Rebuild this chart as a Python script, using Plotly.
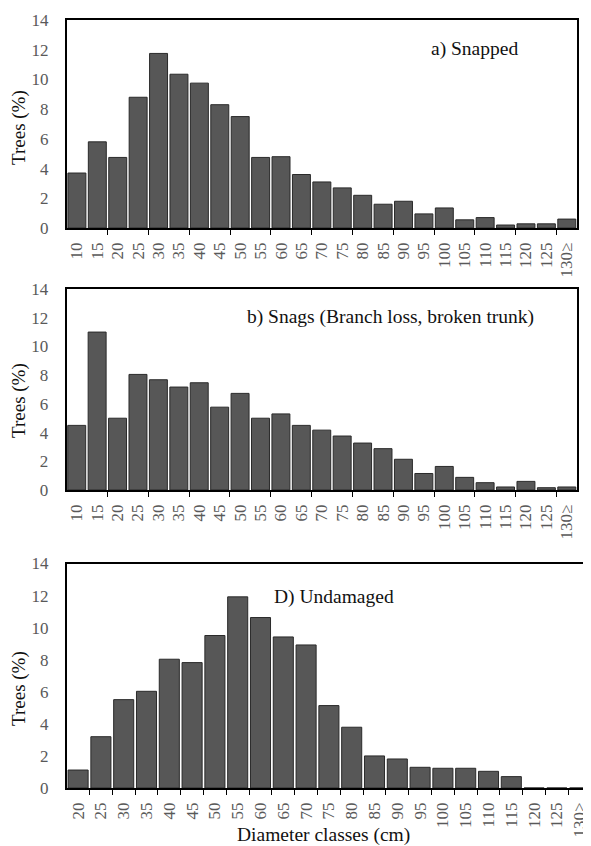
import plotly.graph_objects as go

# the page body has an 8px default margin; the figure is sized so it fills the window exactly
OFF = 8
W, H = 591 - OFF, 846 - OFF

cats_ab = ["10", "15", "20", "25", "30", "35", "40", "45", "50", "55", "60", "65", "70",
           "75", "80", "85", "90", "95", "100", "105", "110", "115", "120", "125", "130≥"]
cats_d = ["20", "25", "30", "35", "40", "45", "50", "55", "60", "65", "70", "75", "80",
          "85", "90", "95", "100", "105", "110", "115", "120", "125", "130≥"]

snapped = [3.7, 5.8, 4.75, 8.8, 11.75, 10.35, 9.75, 8.3, 7.5, 4.75, 4.8, 3.6, 3.1,
           2.7, 2.2, 1.6, 1.8, 0.95, 1.35, 0.55, 0.7, 0.2, 0.28, 0.28, 0.6]
snags = [4.5, 11.0, 5.0, 8.05, 7.68, 7.17, 7.47, 5.77, 6.73, 5.0, 5.3, 4.5, 4.17,
         3.76, 3.27, 2.88, 2.14, 1.15, 1.64, 0.88, 0.51, 0.21, 0.6, 0.16, 0.21]
undamaged = [1.12, 3.2, 5.51, 6.03, 8.03, 7.82, 9.51, 11.92, 10.63, 9.42, 8.92, 5.14, 3.79,
             2.0, 1.81, 1.29, 1.23, 1.23, 1.04, 0.71, 0.0, 0.0, 0.0]

y_ticks = [0, 2, 4, 6, 8, 10, 12, 14]

panel_titles = ["a) Snapped", "b) Snags (Branch loss, broken trunk)", "D) Undamaged"]
y_title = "Trees (%)"
x_title = "Diameter classes (cm)"

FONT = "Liberation Serif"
BAR = "#575757"
EDGE = "#2a2a2a"
TICKC = "#595959"


def px(x):
    return (x - OFF) / W


def py(y):
    return 1 - (y - OFF) / H


fig = go.Figure()

series = [(cats_ab, snapped, "x", "y"), (cats_ab, snags, "x2", "y2"), (cats_d, undamaged, "x3", "y3")]
for cats, vals, xa, ya in series:
    fig.add_trace(go.Bar(
        x=list(range(len(cats))), y=vals, xaxis=xa, yaxis=ya,
        marker=dict(color=BAR, line=dict(color=EDGE, width=1)),
        showlegend=False, hoverinfo="skip"))

# panel geometry in window pixels
panels = [
    dict(x0=66.7, x1=577, y0=20, y1=228, cats=cats_ab, every=2, rng=[-0.5, 24.5]),
    dict(x0=66.5, x1=577, y0=289, y1=490, cats=cats_ab, every=2, rng=[-0.5, 24.5]),
    dict(x0=66.7, x1=591, y0=563.5, y1=788, cats=cats_d, every=1,
         rng=[-0.5, -0.5 + (591 - 66.7) / 22.8]),
]

layout = dict(
    template="none",
    width=W, height=H, margin=dict(l=0, r=0, t=0, b=0, autoexpand=False),
    paper_bgcolor="white", plot_bgcolor="white",
    bargap=0.12, font=dict(family=FONT, color="#000"),
)

for i, p in enumerate(panels):
    sfx = "" if i == 0 else str(i + 1)
    n = len(p["cats"])
    minor_vals = [-0.5 + k for k in range(p["every"], n, p["every"])]
    layout["xaxis" + sfx] = dict(
        domain=[px(p["x0"]), min(1.0, px(p["x1"]))], anchor="y" + sfx, automargin=False,
        range=p["rng"], tickmode="array", tickvals=list(range(n)), ticktext=p["cats"],
        tickangle=-90, ticks="outside", ticklen=6, tickcolor="rgba(0,0,0,0)",
        ticklabeloverflow="allow",
        tickfont=dict(family=FONT, size=17, color=TICKC),
        showline=True, linecolor="#000", linewidth=1.5,
        mirror=True,
        showgrid=False, zeroline=False, fixedrange=True,
        minor=dict(tickmode="array", tickvals=minor_vals, ticks="outside",
                   ticklen=5, tickwidth=1, tickcolor="#000", showgrid=False),
    )
    layout["yaxis" + sfx] = dict(
        domain=[py(p["y1"]), py(p["y0"])], anchor="x" + sfx, automargin=False,
        range=[0, 14], tickmode="array", tickvals=y_ticks,
        ticks="", ticklabelstandoff=13, ticklabeloverflow="allow",
        tickfont=dict(family=FONT, size=17, color=TICKC),
        showline=True, linecolor="#000", linewidth=1.5,
        mirror=(i < 2), showgrid=False, zeroline=False, fixedrange=True,
    )

fig.update_layout(**layout)

# panel titles
title_pos = [(474, 49), (390, 317), (334, 597)]
for t, (x, y) in zip(panel_titles, title_pos):
    fig.add_annotation(text=t, x=px(x), y=py(y), xref="paper", yref="paper",
                       showarrow=False, xanchor="center", yanchor="middle",
                       font=dict(family=FONT, size=19.5, color="#111"))

# y-axis titles
for y in [128, 401, 689]:
    fig.add_annotation(text=y_title, x=px(19), y=py(y), xref="paper", yref="paper",
                       showarrow=False, textangle=-90, xanchor="center", yanchor="middle",
                       font=dict(family=FONT, size=19, color="#111"))

fig.add_annotation(text=x_title, x=px(323), y=py(835), xref="paper", yref="paper",
                   showarrow=False, xanchor="center", yanchor="middle",
                   font=dict(family=FONT, size=19.5, color="#111"))

fig.write_html("out.html")
